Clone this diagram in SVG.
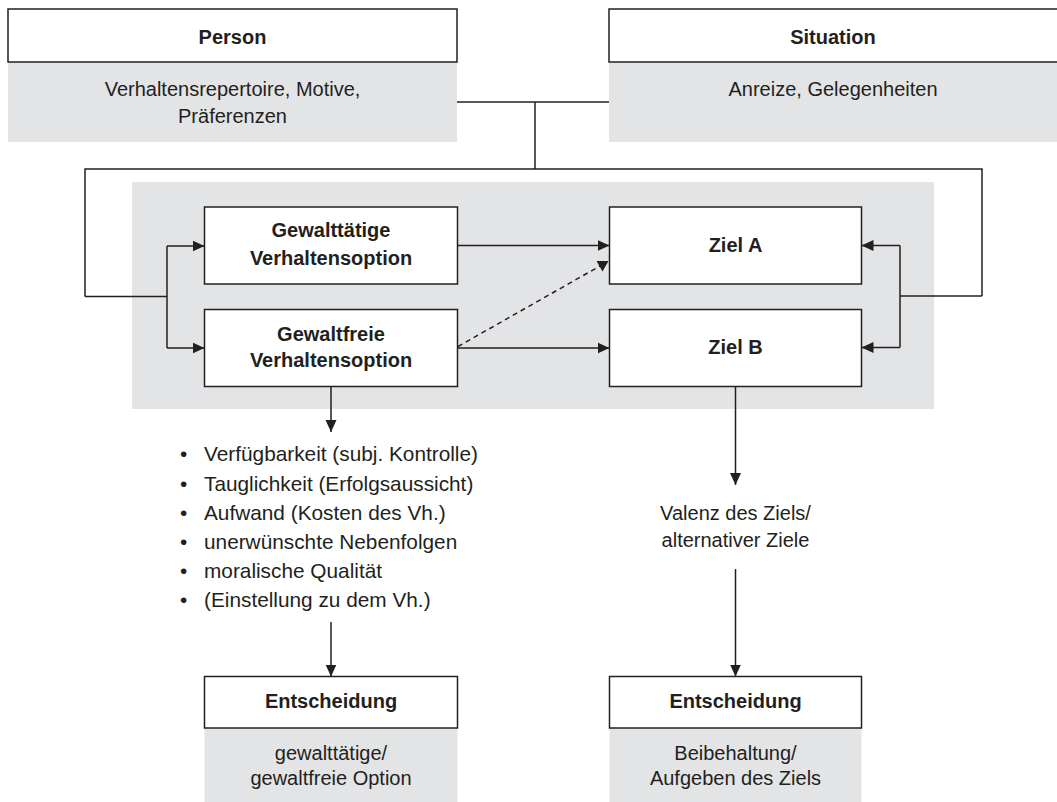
<svg xmlns="http://www.w3.org/2000/svg" width="1057" height="802" viewBox="0 0 1057 802">
  <style>
    .hdr { fill: #ffffff; stroke: #231f20; stroke-width: 1.5; }
    .body { fill: #e3e4e6; }
    .line { fill: none; stroke: #231f20; stroke-width: 1.5; }
    .dash { fill: none; stroke: #231f20; stroke-width: 1.5; stroke-dasharray: 5 4; }
    .head { fill: #231f20; }
    text { font-family: "Liberation Sans", Arial, sans-serif; fill: #231f20; font-size: 20px; }
    .b { font-weight: bold; text-anchor: middle; }
    .c { text-anchor: middle; }
    .li { font-size: 20.8px; }
  </style>
  <defs>
    <marker id="arr" viewBox="0 0 12 12" refX="12" refY="6" markerWidth="12" markerHeight="12" markerUnits="userSpaceOnUse" orient="auto">
      <path d="M0,0.5 L12,6 L0,11.5 Z" class="head"/>
    </marker>
  </defs>

  <!-- shaded panel holding options and goals -->
  <rect id="panel" x="132" y="182" width="802" height="227" class="body"/>

  <g id="person">
    <rect x="8" y="62" width="449" height="80" class="body"/>
    <rect x="8" y="9" width="449" height="53" class="hdr"/>
    <text x="232.5" y="44" class="b">Person</text>
    <text x="232.5" y="96" class="c">Verhaltensrepertoire, Motive,</text>
    <text x="232.5" y="123" class="c">Präferenzen</text>
  </g>

  <g id="situation">
    <rect x="609" y="62" width="450" height="80" class="body"/>
    <rect x="609" y="9" width="450" height="53" class="hdr"/>
    <text x="833" y="44" class="b">Situation</text>
    <text x="833" y="96" class="c">Anreize, Gelegenheiten</text>
  </g>

  <g id="option-violent">
    <rect x="204.5" y="207" width="253" height="77" class="hdr"/>
    <text x="331" y="237" class="b">Gewalttätige</text>
    <text x="331" y="265" class="b">Verhaltensoption</text>
  </g>

  <g id="option-nonviolent">
    <rect x="204.5" y="309.5" width="253" height="77" class="hdr"/>
    <text x="331" y="341" class="b">Gewaltfreie</text>
    <text x="331" y="367" class="b">Verhaltensoption</text>
  </g>

  <g id="goal-a">
    <rect x="609.5" y="207" width="252" height="77" class="hdr"/>
    <text x="735.5" y="252" class="b">Ziel A</text>
  </g>

  <g id="goal-b">
    <rect x="609.5" y="309.5" width="252" height="77" class="hdr"/>
    <text x="735.5" y="354" class="b">Ziel B</text>
  </g>

  <g id="criteria" class="li">
    <text x="180" y="461" class="li">•</text>
    <text x="204" y="461" class="li">Verfügbarkeit (subj. Kontrolle)</text>
    <text x="180" y="491" class="li">•</text>
    <text x="204" y="491" class="li">Tauglichkeit (Erfolgsaussicht)</text>
    <text x="180" y="520" class="li">•</text>
    <text x="204" y="520" class="li">Aufwand (Kosten des Vh.)</text>
    <text x="180" y="549" class="li">•</text>
    <text x="204" y="549" class="li">unerwünschte Nebenfolgen</text>
    <text x="180" y="578" class="li">•</text>
    <text x="204" y="578" class="li">moralische Qualität</text>
    <text x="180" y="607" class="li">•</text>
    <text x="204" y="607" class="li">(Einstellung zu dem Vh.)</text>
  </g>

  <g id="valence">
    <text x="735.5" y="520" class="c">Valenz des Ziels/</text>
    <text x="735.5" y="547" class="c">alternativer Ziele</text>
  </g>

  <g id="decision-option">
    <rect x="204.5" y="728" width="253" height="76" class="body"/>
    <rect x="204.5" y="676.5" width="253" height="51.5" class="hdr"/>
    <text x="331" y="708" class="b">Entscheidung</text>
    <text x="331" y="760" class="c">gewalttätige/</text>
    <text x="331" y="785" class="c">gewaltfreie Option</text>
  </g>

  <g id="decision-goal">
    <rect x="609.5" y="728" width="252" height="76" class="body"/>
    <rect x="609.5" y="676.5" width="252" height="51.5" class="hdr"/>
    <text x="735.5" y="708" class="b">Entscheidung</text>
    <text x="735.5" y="760" class="c">Beibehaltung/</text>
    <text x="735.5" y="785" class="c">Aufgeben des Ziels</text>
  </g>

  <g id="connectors">
    <!-- person and situation merge into the feedback frame -->
    <path d="M457,102 H609" class="line"/>
    <path d="M535,102 V169" class="line"/>
    <path d="M85,296.5 V169 H982 V296" class="line"/>
    <!-- left fork to both options -->
    <path d="M85,296.5 H167" class="line"/>
    <path d="M167,246 V348" class="line"/>
    <path d="M167,246 H204.5" class="line" marker-end="url(#arr)"/>
    <path d="M167,348 H204.5" class="line" marker-end="url(#arr)"/>
    <!-- right fork to both goals -->
    <path d="M982,296 H900" class="line"/>
    <path d="M900,245.5 V347.5" class="line"/>
    <path d="M900,245.5 H861.5" class="line" marker-end="url(#arr)"/>
    <path d="M900,347.5 H861.5" class="line" marker-end="url(#arr)"/>
    <!-- options to goals -->
    <path d="M457.5,245.5 H609.5" class="line" marker-end="url(#arr)"/>
    <path d="M457.5,348 H609.5" class="line" marker-end="url(#arr)"/>
    <path d="M458,346.5 L600,266" class="dash"/>
    <path d="M596.5,261 L608.5,261 L602.5,271.5 Z" class="head"/>
    <!-- downward flows -->
    <path d="M331,386.5 V432" class="line" marker-end="url(#arr)"/>
    <path d="M331,622 V676.5" class="line" marker-end="url(#arr)"/>
    <path d="M735.5,386.5 V485" class="line" marker-end="url(#arr)"/>
    <path d="M735.5,569 V676.5" class="line" marker-end="url(#arr)"/>
  </g>
</svg>
